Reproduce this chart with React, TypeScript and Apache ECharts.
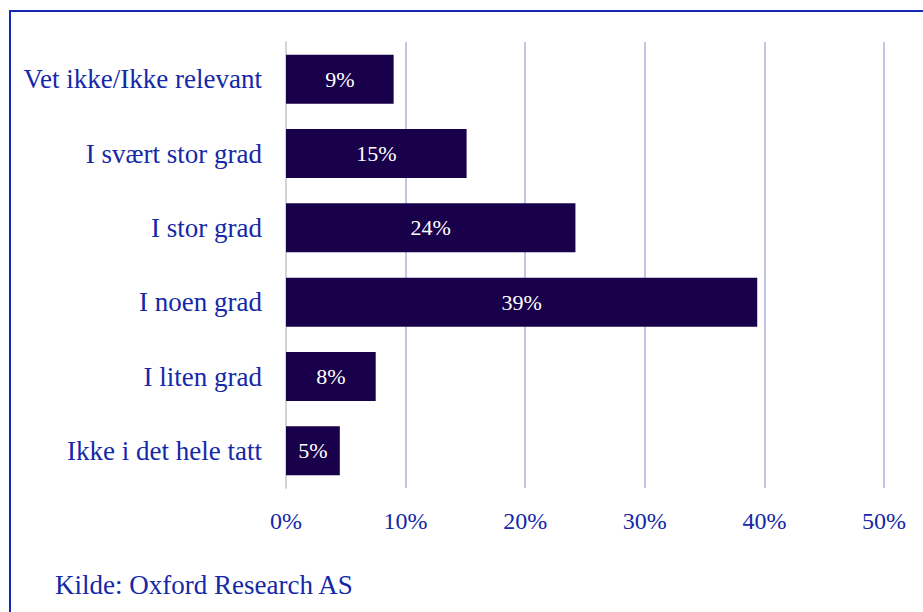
import React, { useEffect, useRef } from "react";
import * as echarts from "echarts";

const categories = [
  "Ikke i det hele tatt",
  "I liten grad",
  "I noen grad",
  "I stor grad",
  "I svært stor grad",
  "Vet ikke/Ikke relevant",
];
const values = [4.5, 7.5, 39.4, 24.2, 15.1, 9.0];
const tickLabelsMax = 50;
const sourceText = "Kilde: Oxford Research AS";

const FONT = "'Liberation Serif', 'Times New Roman', serif";
const BLUE = "#1428a8";

export default function App() {
  const ref = useRef<HTMLDivElement>(null);
  useEffect(() => {
    document.body.style.margin = "0";
    const chart = echarts.init(ref.current!, undefined, { renderer: "svg" });
    chart.setOption({
      animation: false,
      grid: { left: 286, right: 39, top: 42, bottom: 124 },
      xAxis: {
        type: "value",
        min: 0,
        max: tickLabelsMax,
        interval: 10,
        axisLine: { show: false },
        axisTick: { show: false },
        splitLine: { show: true, lineStyle: { color: "#c4c4e6", width: 2 } },
        axisLabel: {
          formatter: "{value}%",
          color: BLUE,
          fontFamily: FONT,
          fontSize: 24,
          margin: 21,
        },
      },
      yAxis: {
        type: "category",
        data: categories,
        axisLine: { show: true, lineStyle: { color: "#d4d4d4", width: 2 } },
        axisTick: { show: false },
        axisLabel: {
          color: BLUE,
          fontFamily: FONT,
          fontSize: 27,
          margin: 24,
        },
      },
      series: [
        {
          type: "bar",
          data: values,
          barWidth: "66%",
          itemStyle: { color: "#18004a" },
          label: {
            show: true,
            position: "inside",
            color: "#ffffff",
            fontFamily: FONT,
            fontSize: 22,
            formatter: (p: any) => Math.round(p.value) + "%",
          },
        },
      ],
      graphic: [
        {
          type: "rect",
          shape: { x: 10, y: 11, width: 1000, height: 1000 },
          style: { fill: "none", stroke: "#1428b4", lineWidth: 2 },
          silent: true,
        },
        {
          type: "text",
          left: 55,
          top: 571,
          style: {
            text: sourceText,
            fill: BLUE,
            font: `27px ${FONT}`,
          },
        },
      ],
    });
    return () => chart.dispose();
  }, []);
  return (
    <div
      ref={ref}
      style={{ position: "absolute", left: 0, top: 0, width: 923, height: 612 }}
    />
  );
}
